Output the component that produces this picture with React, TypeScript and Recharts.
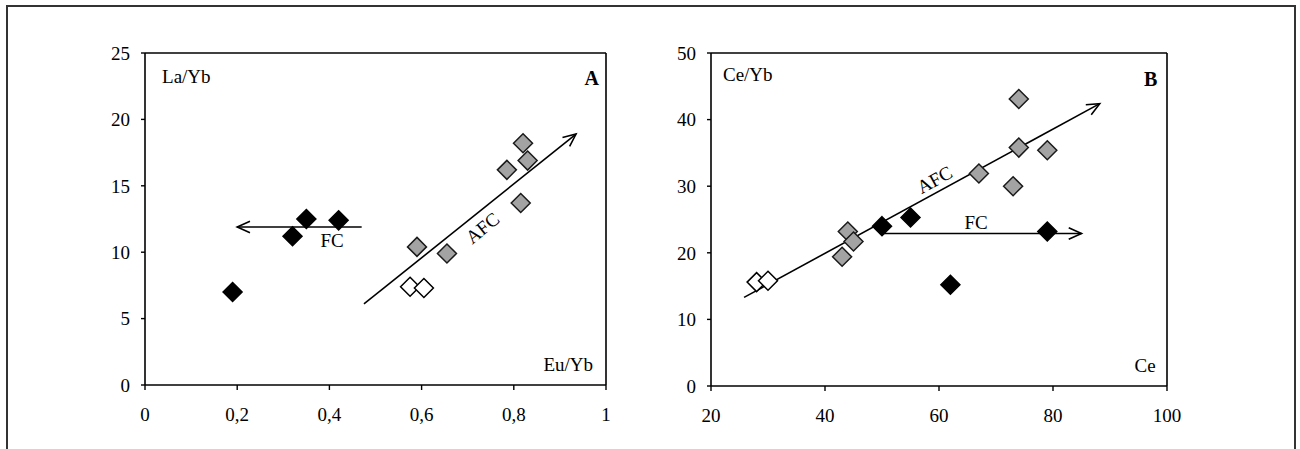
import React from 'react';
import {
  ScatterChart,
  Scatter,
  XAxis,
  YAxis,
  ReferenceLine,
  ReferenceDot,
} from 'recharts';

// Panel A: Eu/Yb vs La/Yb
const aBlack = [
  { x: 0.19, y: 7.0 },
  { x: 0.32, y: 11.2 },
  { x: 0.35, y: 12.5 },
  { x: 0.42, y: 12.4 },
];
const aOpen = [
  { x: 0.575, y: 7.4 },
  { x: 0.605, y: 7.3 },
];
const aGray = [
  { x: 0.59, y: 10.4 },
  { x: 0.655, y: 9.9 },
  { x: 0.785, y: 16.2 },
  { x: 0.82, y: 18.2 },
  { x: 0.83, y: 16.9 },
  { x: 0.815, y: 13.7 },
];
const aTicksX = [0, 0.2, 0.4, 0.6, 0.8, 1];
const aTicksY = [0, 5, 10, 15, 20, 25];
const aFcArrow = [{ x: 0.47, y: 11.9 }, { x: 0.2, y: 11.9 }];
const aAfcArrow = [{ x: 0.475, y: 6.1 }, { x: 0.935, y: 18.9 }];

// Panel B: Ce vs Ce/Yb
const bBlack = [
  { x: 50, y: 24 },
  { x: 55, y: 25.3 },
  { x: 62, y: 15.2 },
  { x: 79, y: 23.2 },
];
const bOpen = [
  { x: 28, y: 15.6 },
  { x: 30, y: 15.8 },
];
const bGray = [
  { x: 44, y: 23.2 },
  { x: 45, y: 21.7 },
  { x: 43, y: 19.4 },
  { x: 67, y: 31.9 },
  { x: 73, y: 30 },
  { x: 74, y: 35.8 },
  { x: 74, y: 43.1 },
  { x: 79, y: 35.4 },
];
const bTicksX = [20, 40, 60, 80, 100];
const bTicksY = [0, 10, 20, 30, 40, 50];
const bFcArrow = [{ x: 50.3, y: 22.9 }, { x: 85, y: 22.9 }];
const bAfcArrow = [{ x: 25.8, y: 13.3 }, { x: 88.2, y: 42.4 }];

// annotation text: [label, x, y, anchor, rotate, bold]
const aNotes: [string, number, number, string, number, boolean][] = [
  ['La/Yb', 0.037, 23.05, 'start', 0, false],
  ['A', 0.969, 22.95, 'middle', 0, true],
  ['Eu/Yb', 0.972, 1.42, 'end', 0, false],
  ['FC', 0.406, 10.7, 'middle', 0, false],
  ['AFC', 0.735, 11.7, 'middle', -39, false],
];
const bNotes: [string, number, number, string, number, boolean][] = [
  ['Ce/Yb', 22.1, 46.45, 'start', 0, false],
  ['B', 97.15, 45.7, 'middle', 0, true],
  ['Ce', 98.0, 2.73, 'end', 0, false],
  ['FC', 66.5, 24.2, 'middle', 0, false],
  ['AFC', 59.4, 30.7, 'middle', -28.6, false],
];

const FONT = '"Liberation Serif", "Times New Roman", serif';

const makeDiamond = (fill: string, stroke: string) => (props: any) => {
  const { cx, cy } = props;
  const r = 9.5;
  return (
    <polygon
      points={`${cx},${cy - r} ${cx + r},${cy} ${cx},${cy + r} ${cx - r},${cy}`}
      fill={fill}
      stroke={stroke}
      strokeWidth={1.5}
    />
  );
};

const ArrowLine = (props: any) => {
  const { x1, y1, x2, y2 } = props;
  if ([x1, y1, x2, y2].some((v) => typeof v !== 'number' || isNaN(v))) return null;
  const ang = Math.atan2(y2 - y1, x2 - x1);
  const len = 14;
  const spread = 0.42;
  const ax = x2 - len * Math.cos(ang - spread);
  const ay = y2 - len * Math.sin(ang - spread);
  const bx = x2 - len * Math.cos(ang + spread);
  const by = y2 - len * Math.sin(ang + spread);
  return (
    <g>
      <line x1={x1} y1={y1} x2={x2} y2={y2} stroke="#000" strokeWidth={1.6} />
      <polyline
        points={`${ax},${ay} ${x2},${y2} ${bx},${by}`}
        fill="none"
        stroke="#000"
        strokeWidth={1.6}
      />
    </g>
  );
};

const noteShape = (label: string, anchor: string, rotate: number, bold: boolean) => (props: any) => {
  const { cx, cy } = props;
  return (
    <text
      x={cx}
      y={cy}
      textAnchor={anchor as any}
      dominantBaseline="middle"
      fontFamily={FONT}
      fontSize={bold ? 20 : 19}
      fontWeight={bold ? 'bold' : 'normal'}
      fill="#000"
      transform={rotate ? `rotate(${rotate} ${cx} ${cy})` : undefined}
    >
      {label}
    </text>
  );
};

const fmtComma = (v: number) => String(v).replace('.', ',');

const tickStyle = { fontFamily: FONT, fontSize: 19, fill: '#000' };

interface PanelProps {
  black: { x: number; y: number }[];
  open: { x: number; y: number }[];
  gray: { x: number; y: number }[];
  ticksX: number[];
  ticksY: number[];
  fcArrow: { x: number; y: number }[];
  afcArrow: { x: number; y: number }[];
  notes: [string, number, number, string, number, boolean][];
  margin: { top: number; right: number; bottom: number; left: number };
  formatX?: (v: number) => string;
}

const Panel: React.FC<PanelProps> = ({
  black, open, gray, ticksX, ticksY, fcArrow, afcArrow, notes, margin, formatX,
}) => {
  const xDom: [number, number] = [ticksX[0], ticksX[ticksX.length - 1]];
  const yDom: [number, number] = [ticksY[0], ticksY[ticksY.length - 1]];
  return (
    <ScatterChart width={650} height={449} margin={margin}>
      <XAxis
        type="number"
        dataKey="x"
        domain={xDom}
        ticks={ticksX}
        tickFormatter={formatX}
        axisLine={{ stroke: '#000', strokeWidth: 1.6 }}
        tickLine={{ stroke: '#000', strokeWidth: 1.4 }}
        tickSize={5}
        tickMargin={18}
        height={40}
        tick={tickStyle}
        allowDataOverflow
      />
      <YAxis
        type="number"
        dataKey="y"
        domain={yDom}
        ticks={ticksY}
        axisLine={{ stroke: '#000', strokeWidth: 1.6 }}
        tickLine={{ stroke: '#000', strokeWidth: 1.4 }}
        tickSize={4}
        tickMargin={11}
        width={40}
        tick={tickStyle}
        allowDataOverflow
      />
      <ReferenceLine y={yDom[1]} stroke="#000" strokeWidth={1.6} />
      <ReferenceLine x={xDom[1]} stroke="#000" strokeWidth={1.6} />
      <ReferenceLine
        segment={[fcArrow[0], fcArrow[1]]}
        shape={ArrowLine}
        ifOverflow="visible"
      />
      <ReferenceLine
        segment={[afcArrow[0], afcArrow[1]]}
        shape={ArrowLine}
        ifOverflow="visible"
      />
      {notes.map(([label, x, y, anchor, rot, bold]) => (
        <ReferenceDot
          key={label}
          x={x}
          y={y}
          ifOverflow="visible"
          shape={noteShape(label, anchor, rot, bold)}
        />
      ))}
      <Scatter data={gray} shape={makeDiamond('#a3a3a3', '#1a1a1a')} isAnimationActive={false} />
      <Scatter data={open} shape={makeDiamond('#ffffff', '#000')} isAnimationActive={false} />
      <Scatter data={black} shape={makeDiamond('#000', '#000')} isAnimationActive={false} />
    </ScatterChart>
  );
};

const App: React.FC = () => {
  return (
    <div style={{ position: 'absolute', left: 0, top: 0, width: 1300, height: 449, overflow: 'hidden', background: '#fff' }}>
      <div
        style={{
          position: 'absolute',
          left: 6,
          top: 5,
          width: 1286,
          height: 470,
          border: '2px solid #333',
        }}
      />
      <div style={{ position: 'absolute', left: 0, top: 0 }}>
        <Panel
          black={aBlack}
          open={aOpen}
          gray={aGray}
          ticksX={aTicksX}
          ticksY={aTicksY}
          fcArrow={aFcArrow}
          afcArrow={aAfcArrow}
          notes={aNotes}
          margin={{ top: 53, right: 44, bottom: 24, left: 105 }}
          formatX={fmtComma}
        />
      </div>
      <div style={{ position: 'absolute', left: 650, top: 0 }}>
        <Panel
          black={bBlack}
          open={bOpen}
          gray={bGray}
          ticksX={bTicksX}
          ticksY={bTicksY}
          fcArrow={bFcArrow}
          afcArrow={bAfcArrow}
          notes={bNotes}
          margin={{ top: 53, right: 133, bottom: 23, left: 21 }}
        />
      </div>
    </div>
  );
};

export default App;
